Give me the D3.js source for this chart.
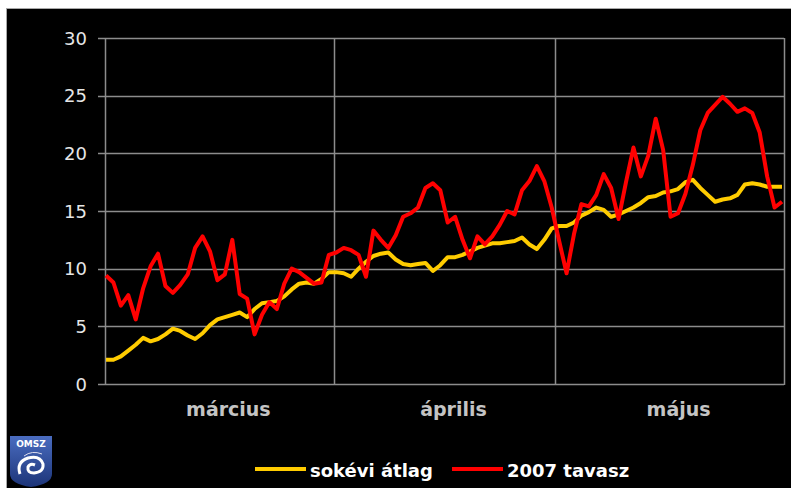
<!DOCTYPE html>
<html><head><meta charset="utf-8">
<script src="https://cdn.jsdelivr.net/npm/d3@7"></script>
<style>html,body{margin:0;padding:0;background:#fff;}svg{display:block;}</style>
</head><body>
<script>
const months = ["március", "április", "május"];
const monthStartDays = [0, 31, 61];
const totalDays = 92;
const yTicks = [0, 5, 10, 15, 20, 25, 30];
const seriesNames = ["sokévi átlag", "2007 tavasz"];
const avgValues = [2.1,2.1,2.4,2.9,3.4,4.0,3.7,3.9,4.3,4.8,4.6,4.2,3.9,4.4,5.1,5.6,5.8,6.0,6.2,5.8,6.5,7.0,7.1,7.2,7.6,8.2,8.7,8.8,8.7,9.1,9.7,9.7,9.6,9.3,10.0,10.6,11.1,11.3,11.4,10.8,10.4,10.3,10.4,10.5,9.8,10.3,11.0,11.0,11.2,11.5,11.8,12.0,12.2,12.2,12.3,12.4,12.7,12.1,11.7,12.5,13.5,13.7,13.7,14.0,14.6,14.9,15.3,15.1,14.5,14.7,15.0,15.3,15.7,16.2,16.3,16.6,16.7,16.9,17.5,17.7,17.0,16.4,15.8,16.0,16.1,16.4,17.3,17.4,17.3,17.1,17.1,17.1];
const springValues = [9.4,8.8,6.8,7.7,5.6,8.3,10.2,11.3,8.5,7.9,8.6,9.5,11.8,12.8,11.5,9.0,9.5,12.5,7.8,7.4,4.3,6.0,7.1,6.5,8.7,10.0,9.7,9.2,8.7,8.8,11.2,11.4,11.8,11.6,11.2,9.3,13.3,12.5,11.8,12.9,14.5,14.8,15.3,17.0,17.4,16.8,14.0,14.5,12.5,10.9,12.8,12.1,12.8,13.8,15.0,14.7,16.8,17.6,18.9,17.6,15.3,12.4,9.6,13.0,15.6,15.4,16.4,18.2,17.0,14.3,17.5,20.5,18.0,19.8,23.0,20.3,14.5,14.8,16.5,19.0,22.0,23.5,24.2,24.9,24.3,23.6,23.9,23.5,21.8,18.0,15.3,15.8];
const seriesColors = ["#ffcc00", "#ff0000"];

const W = 791, H = 488;
const svg = d3.select("body").append("svg").attr("width", W).attr("height", H);
svg.append("rect").attr("x", 6.5).attr("y", 8.5).attr("width", W - 6).attr("height", H - 8)
  .attr("fill", "#000").attr("stroke", "#a8a8a8").attr("stroke-width", 1);

const L = 105, R = 784, T = 38, B = 384;
const y = d3.scaleLinear().domain([0, 30]).range([B, T]);
const xDay = d3.scaleLinear().domain([0, totalDays]).range([L, R]);
const xPt = d3.scaleLinear().domain([0, avgValues.length - 1]).range([L + 1, R - 2]);

const grid = "#8c8c8c";
// horizontal grid
svg.append("g").selectAll("line").data(yTicks).join("line")
  .attr("x1", L - 7).attr("x2", R).attr("y1", d => Math.round(y(d)) + 0.5).attr("y2", d => Math.round(y(d)) + 0.5)
  .attr("stroke", grid).attr("stroke-width", 1.5);
// vertical grid at month boundaries
svg.append("g").selectAll("line").data(monthStartDays.concat([totalDays])).join("line")
  .attr("x1", d => Math.round(xDay(d)) + 0.5).attr("x2", d => Math.round(xDay(d)) + 0.5)
  .attr("y1", T).attr("y2", B + 1)
  .attr("stroke", grid).attr("stroke-width", 1.5);

// y labels
svg.append("g").selectAll("text").data(yTicks).join("text")
  .attr("x", 87).attr("y", d => y(d) + 6.5).attr("text-anchor", "end")
  .attr("font-family", "DejaVu Sans").attr("font-size", 18).attr("fill", "#e6e6e6")
  .text(d => d);

// month labels
const monthEnds = monthStartDays.slice(1).concat([totalDays]);
svg.append("g").selectAll("text").data(months).join("text")
  .attr("x", (d, i) => (xDay(monthStartDays[i]) + xDay(monthEnds[i])) / 2 + 9)
  .attr("y", 416).attr("text-anchor", "middle")
  .attr("font-family", "DejaVu Sans").attr("font-weight", "bold").attr("font-size", 19)
  .attr("fill", "#c4c4c4").text(d => d);

// lines
const line = d3.line().x((d, i) => xPt(i)).y(d => y(d)).curve(d3.curveLinear);
[avgValues, springValues].forEach((vals, k) => {
  svg.append("path").datum(vals).attr("d", line).attr("fill", "none")
    .attr("stroke", seriesColors[k]).attr("stroke-width", 4).attr("stroke-linejoin", "round");
});

// legend
const legX = [255, 452];
seriesNames.forEach((n, k) => {
  svg.append("line").attr("x1", legX[k]).attr("x2", legX[k] + 51).attr("y1", 469).attr("y2", 469)
    .attr("stroke", seriesColors[k]).attr("stroke-width", 4);
  svg.append("text").attr("x", legX[k] + 55).attr("y", 477)
    .attr("font-family", "DejaVu Sans").attr("font-weight", "bold").attr("font-size", 18)
    .attr("fill", "#fff").text(n);
});

// OMSZ logo
const lg = svg.append("g").attr("transform", "translate(10,436)");
const grad = svg.append("defs").append("linearGradient").attr("id", "lgg").attr("x1", 0).attr("y1", 0).attr("x2", 0).attr("y2", 1);
grad.append("stop").attr("offset", 0).attr("stop-color", "#4a6cc0");
grad.append("stop").attr("offset", 1).attr("stop-color", "#1c3478");
lg.append("path").attr("d", "M0,0 H42 V38 Q42,48 21,51 Q0,48 0,38 Z").attr("fill", "url(#lgg)");
lg.append("text").attr("x", 21).attr("y", 11).attr("text-anchor", "middle")
  .attr("font-family", "DejaVu Sans").attr("font-weight", "bold").attr("font-size", 9).attr("fill", "#fff").text("OMSZ");
lg.append("path").attr("d", "M10,38 Q6,26 18,22 Q30,19 33,28 Q34,36 24,37 Q17,37 18,31 Q20,27 25,29")
  .attr("fill", "none").attr("stroke", "#fff").attr("stroke-width", 3);
lg.append("path").attr("d", "M14,20 Q22,14 32,18").attr("fill", "none").attr("stroke", "#dde", "stroke-width", 1.5);
</script>
</body></html>
